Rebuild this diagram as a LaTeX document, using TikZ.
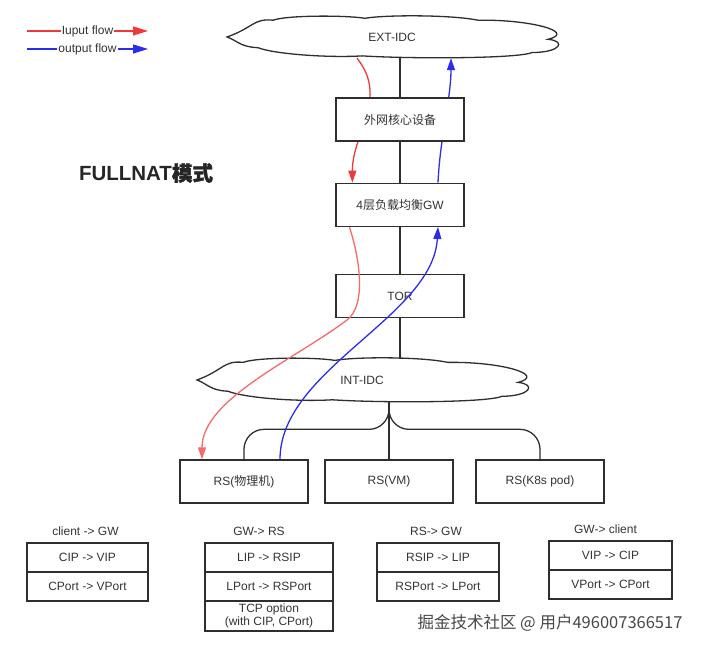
\documentclass[tikz,border=0pt]{standalone}
\usepackage{fontspec}
\setmainfont{Liberation Sans}
\newfontfamily\cjk{Noto Sans CJK SC}
\newfontfamily\cjkbf{Noto Sans CJK SC}[FakeBold=1.5]
\usepackage{xcolor}
\definecolor{flowred}{HTML}{F0383A}
\definecolor{flowpink}{HTML}{F56A6A}
\definecolor{flowblue}{HTML}{2C2CEA}
\definecolor{edge}{HTML}{2E2E2E}
\usetikzlibrary{arrows.meta,positioning,backgrounds,calc}
\newcommand{\idcoutline}{(-0.5,0) .. controls (-0.42,0.22) and (-0.42,0.45) .. (-0.36,0.40)
  .. controls (-0.32,0.52) and (-0.14,0.52) .. (-0.082,0.445)
  .. controls (-0.02,0.53) and (0.18,0.53) .. (0.26,0.40)
  .. controls (0.42,0.42) and (0.56,0.12) .. (0.473,-0.055)
  .. controls (0.53,-0.1) and (0.51,-0.37) .. (0.424,-0.37)
  .. controls (0.38,-0.52) and (0.05,-0.52) .. (-0.09,-0.45)
  .. controls (-0.2,-0.5) and (-0.36,-0.40) .. (-0.406,-0.255)
  .. controls (-0.46,-0.24) and (-0.47,-0.08) .. (-0.5,0) -- cycle}

\begin{document}
\begin{tikzpicture}[x=1pt, y=1pt,
      dev/.style={draw=edge, line width=1.3pt, fill=white, minimum width=128pt, minimum height=43pt, text=black!80, font=\fontsize{12}{14}\selectfont},
      idc/.style={minimum width=330pt, minimum height=42pt, inner sep=0pt, text=black!80, font=\fontsize{12}{14}\selectfont},
      idcline/.style={draw=edge, line width=1.3pt, fill=white},
      cell/.style={draw=edge, line width=1.3pt, outer sep=0pt, inner sep=2pt, minimum height=29pt, align=center, text=black!80, font=\fontsize{12}{13}\selectfont},
      hdr/.style={inner sep=1pt, text=black!80, font=\fontsize{12}{14}\selectfont},
      link/.style={draw=edge, line width=1.3pt},
      flow/.style={line width=1.3pt, -{Triangle[length=12pt,width=8pt]}},
      key/.style={line width=1.3pt, -{Triangle[length=15pt,width=9pt]}},
      node distance=41pt
    ]
    \useasboundingbox (0,0) rectangle (705,650);

    \node[idc] (ext) at (392,613) {EXT-IDC};
    \node[dev] (core) at (400,530.5) {{\cjk 外网核心设备}};
    \node[dev, below=of core] (gw) {4{\cjk 层负载均衡}GW};
    \node[dev, below=47pt of gw] (tor) {TOR};
    \node[idc] (int) at (362,270) {INT-IDC};
    \node[dev] (rs1) at (244,168.5) {RS({\cjk 物理机})};
    \node[dev] (rs2) at (389,168.5) {RS(VM)};
    \node[dev] (rs3) at (540,168.5) {RS(K8s pod)};
    \coordinate (fork) at (rs2.north |- int.south);
    \coordinate (bend) at (347,330);

    \begin{scope}[on background layer]
      \draw[idcline, shift={(ext.center)}, xscale=330, yscale=42] \idcoutline;
      \draw[idcline, shift={(int.center)}, xscale=330, yscale=44] \idcoutline;
      \draw[flow, flowred] ([xshift=-35pt]ext.south) .. controls +(32,-40) and +(0,50) .. ([xshift=17pt]gw.north west);
      \draw[flow, flowblue] ([xshift=38pt]gw.north) .. controls +(2,45) and +(0,-40) .. ([xshift=59pt]ext.south);
    \end{scope}

    \draw[link] (core.north) -- (core.north |- ext.south);
    \draw[link] (core.south) -- (gw.north);
    \draw[link] (gw.south) -- (tor.north);
    \draw[link] (tor.south) -- (tor.south |- int.north);
    \draw[link] (fork) -- (rs2.north);
    \draw[link, rounded corners=20pt] (fork) |- ($(rs1.north)+(0,30)$) -- (rs1.north);
    \draw[link, rounded corners=20pt] (fork) |- ($(rs3.north)+(0,30)$) -- (rs3.north);

    \draw[flow, flowpink] ([xshift=14pt]gw.south west) .. controls +(10,-30) and +(20,15) .. (bend) .. controls +(-53,-40) and +(0,60) .. ([xshift=-42pt]rs1.north);
    \draw[flow, flowblue] ([xshift=36pt]rs1.north) .. controls +(0,90) and +(-5,-90) .. ([xshift=38pt]gw.south);

    \coordinate (inL) at (27,619);
    \coordinate (inR) at (148,619);
    \coordinate (outL) at (27,601);
    \coordinate (outR) at (148,601);
    \draw[key, flowred] (inL) -- node[fill=white, inner sep=1pt, text=black!80, font=\fontsize{12}{14}\selectfont] (inlbl) {Iuput flow} (inR);
    \draw[key, flowblue] (outL) -- node[fill=white, inner sep=1pt, text=black!80, font=\fontsize{12}{14}\selectfont] (outlbl) {output flow} (outR);

    \node[text=black!85, font=\bfseries\fontsize{20.5}{24}\selectfont] (title) at (146,477) {FULLNAT{\cjkbf 模式}};

    \node[cell, minimum width=121pt] (c2g1) at (87.5,92.5) {CIP -> VIP};
    \node[cell, minimum width=121pt, below=0pt of c2g1] (c2g2) {CPort -> VPort};
    \node[hdr, above=6pt of c2g1, xshift=-2pt] (c2g) {client -> GW};

    \node[cell, minimum width=128pt] (g2r1) at (269,92.5) {LIP -> RSIP};
    \node[cell, minimum width=128pt, below=0pt of g2r1] (g2r2) {LPort -> RSPort};
    \node[cell, minimum width=128pt, minimum height=30pt, below=0pt of g2r2] (g2r3) {TCP option\\(with CIP, CPort)};
    \node[hdr, above=6pt of g2r1, xshift=-10pt] (g2r) {GW-> RS};

    \node[cell, minimum width=122pt] (r2g1) at (438,92.5) {RSIP -> LIP};
    \node[cell, minimum width=122pt, below=0pt of r2g1] (r2g2) {RSPort -> LPort};
    \node[hdr, above=6pt of r2g1, xshift=-2pt] (r2g) {RS-> GW};

    \node[cell, minimum width=123pt] (g2c1) at (610.5,94.5) {VIP -> CIP};
    \node[cell, minimum width=123pt, below=0pt of g2c1] (g2c2) {VPort -> CPort};
    \node[hdr, above=6pt of g2c1, xshift=-5pt] (g2c) {GW-> client};

    \node[text=black!72, font=\cjk\fontsize{16.5}{18}\selectfont] (mark) at (550,27) {掘金技术社区 @ 用户496007366517};
  \end{tikzpicture}
\end{document}
